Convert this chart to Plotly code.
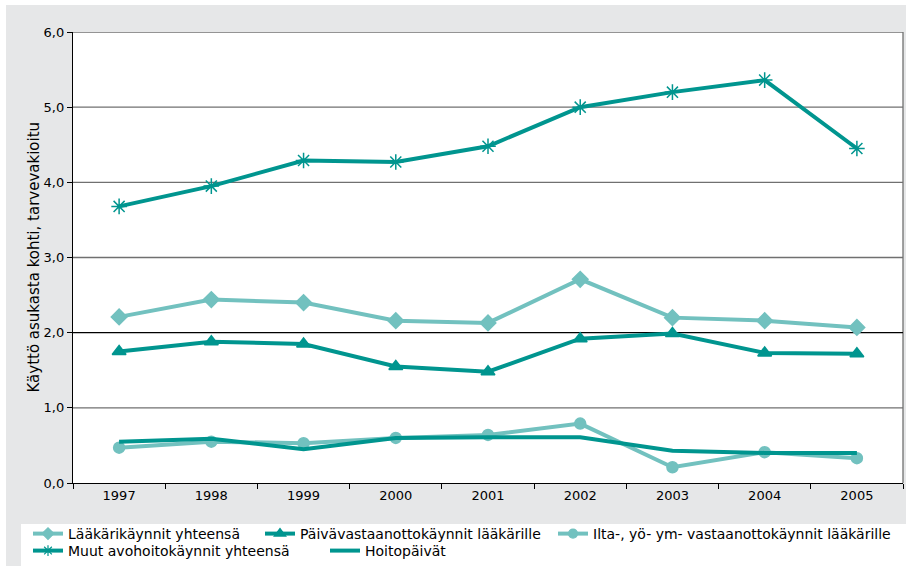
import plotly.graph_objects as go

# Data: usage per resident, need-standardised
years = ["1997", "1998", "1999", "2000", "2001", "2002", "2003", "2004", "2005"]
laakarikaynnit = [2.21, 2.44, 2.40, 2.16, 2.13, 2.71, 2.20, 2.16, 2.07]
paivavastaanotto = [1.75, 1.88, 1.85, 1.55, 1.48, 1.92, 1.99, 1.73, 1.72]
iltavastaanotto = [0.47, 0.55, 0.53, 0.60, 0.64, 0.79, 0.21, 0.41, 0.33]
muut_avohoito = [3.68, 3.95, 4.29, 4.27, 4.48, 5.00, 5.20, 5.36, 4.45]
hoitopaivat = [0.55, 0.59, 0.45, 0.60, 0.61, 0.61, 0.43, 0.40, 0.40]

y_ticks = [0, 1, 2, 3, 4, 5, 6]
y_title = "Käyttö asukasta kohti, tarvevakioitu"

W, H = 909, 571
ML, MR, MT, MB = 73, 6, 32, 88
PW = W - ML - MR
PH = H - MT - MB

DARK = "#00958f"
LIGHT = "#72c1bf"
FONT = "DejaVu Sans"


def px_x(px):
    return (px - ML) / PW


def px_y(py):
    return (H - MB - py) / PH


fig = go.Figure()

# (name, values, colour, marker symbol, plot marker size, legend marker size, legend id)
series = [
    ("Lääkärikäynnit yhteensä", laakarikaynnit, LIGHT, "diamond", 12, 9, "legend"),
    ("Päivävastaanottokäynnit lääkärille", paivavastaanotto, DARK, "triangle-up", 12, 10, "legend2"),
    ("Ilta-, yö- ym- vastaanottokäynnit lääkärille", iltavastaanotto, LIGHT, "circle", 11, 9, "legend3"),
    ("Muut avohoitokäynnit yhteensä", muut_avohoito, DARK, "asterisk-open", 13, 9, "legend4"),
    ("Hoitopäivät", hoitopaivat, DARK, None, 0, 0, "legend5"),
]

for name, vals, col, sym, size, lsize, leg in series:
    mode = "lines" if sym is None else "lines+markers"
    marker = None
    lmarker = None
    if sym is not None:
        marker = dict(symbol=sym, size=size, color=col,
                      line=dict(color=col, width=1.5))
        lmarker = dict(symbol=sym, size=lsize, color=col,
                       line=dict(color=col, width=1.2))
    # plotted series
    fig.add_trace(go.Scatter(x=years, y=vals, name=name, mode=mode,
                             line=dict(color=col, width=4), marker=marker,
                             showlegend=False))
    # empty companion trace that only provides the (smaller) legend key
    fig.add_trace(go.Scatter(x=[None], y=[None], name=name, mode=mode,
                             line=dict(color=col, width=4), marker=lmarker,
                             legend=leg, hoverinfo="skip"))

shapes = [
    # grey outer frame
    dict(type="rect", xref="paper", yref="paper", layer="below",
         x0=px_x(6), x1=px_x(906), y0=px_y(566), y1=px_y(5),
         fillcolor="#e6e7e8", line=dict(width=0)),
    # white plotting area
    dict(type="rect", xref="paper", yref="paper", layer="below",
         x0=0, x1=1, y0=0, y1=1, fillcolor="white", line=dict(width=0)),
    # white legend box
    dict(type="rect", xref="paper", yref="paper", layer="below",
         x0=px_x(21), x1=px_x(906), y0=px_y(566), y1=px_y(524),
         fillcolor="white", line=dict(width=0)),
    # right border of the plotting area
    dict(type="line", xref="paper", yref="paper", layer="below",
         x0=1, x1=1, y0=0, y1=1, line=dict(color="#707070", width=1.3)),
]
for v in y_ticks[1:]:
    shapes.append(dict(type="line", xref="paper", yref="y", layer="below",
                       x0=0, x1=1, y0=v, y1=v,
                       line=dict(color="black" if v == 2 else "#707070",
                                 width=1.3)))

legend_pos = {
    "legend": (33, 534),
    "legend2": (265, 534),
    "legend3": (558, 534),
    "legend4": (33, 551),
    "legend5": (330, 551),
}
legend_layout = {}
for key, (lx, ly) in legend_pos.items():
    legend_layout[key] = dict(
        xref="container", yref="container",
        x=(lx - 5) / W, y=1 - ly / H, xanchor="left", yanchor="middle",
        bgcolor="rgba(0,0,0,0)", borderwidth=0,
        font=dict(family=FONT, size=14, color="black"),
        itemwidth=30, tracegroupgap=0,
    )

fig.update_layout(
    width=W, height=H,
    margin=dict(l=ML, r=MR, t=MT, b=MB, pad=0, autoexpand=False),
    paper_bgcolor="white", plot_bgcolor="rgba(0,0,0,0)",
    separators=",.",
    font=dict(family=FONT, size=13, color="black"),
    showlegend=True,
    shapes=shapes,
    annotations=[dict(
        text=y_title, textangle=-90, showarrow=False,
        xref="paper", yref="paper", x=px_x(33), y=0.5,
        xanchor="center", yanchor="middle",
        font=dict(family=FONT, size=15, color="black"),
    )],
    xaxis=dict(
        type="category", range=[-0.5, 8.5],
        showgrid=False, zeroline=False,
        showline=True, linecolor="black", linewidth=1.3,
        ticks="outside", tickson="boundaries", ticklen=5,
        tickcolor="black", tickwidth=1.3, tickangle=0,
        tickfont=dict(family=FONT, size=13),
    ),
    yaxis=dict(
        range=[0, 6], tickvals=y_ticks, tickformat=".1f",
        showgrid=False, zeroline=False,
        showline=True, linecolor="black", linewidth=1.3,
        ticks="outside", ticklen=5, tickcolor="black", tickwidth=1.3,
        tickfont=dict(family=FONT, size=13),
    ),
    **legend_layout,
)

fig.write_html("out.html")
